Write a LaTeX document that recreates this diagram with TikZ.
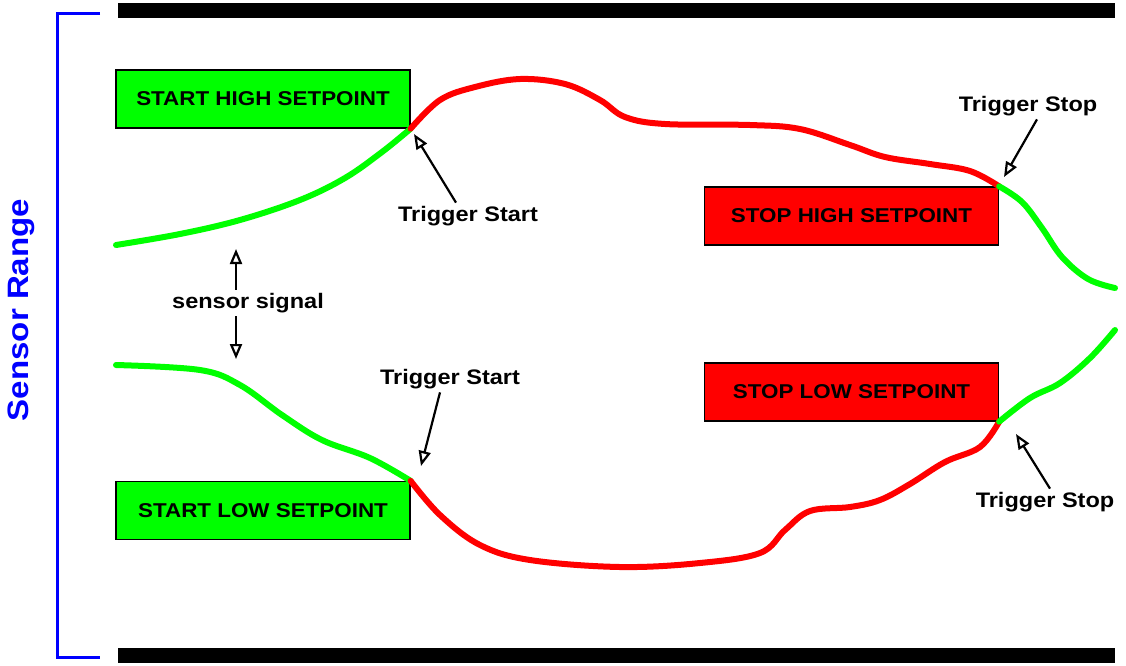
\documentclass[tikz,border=0pt]{standalone}
\usepackage{fontspec}
\setmainfont{Liberation Sans}
\newfontfamily\widesans[FakeStretch=1.12]{Liberation Sans}
\usepackage{tikz}
\usetikzlibrary{arrows.meta}

\begin{document}
\begin{tikzpicture}[x=1pt, y=-1pt, font=\widesans\bfseries,
  setbox/.style={draw=black, line width=1.3pt, minimum width=294pt, minimum height=58pt, font=\widesans\bfseries\fontsize{20}{22}\selectfont},
  sig/.style={line width=6pt, line cap=round, line join=round},
  arr/.style={line width=2.2pt, -{Triangle[open, length=15pt, width=12pt]}},
  lab/.style={font=\widesans\bfseries\fontsize{21}{23}\selectfont}]
\useasboundingbox (0,0) rectangle (1126,665);
% rails and range bracket
\fill[black] (118,3) rectangle (1115,18);
\fill[black] (118,648) rectangle (1115,663);
\draw[blue, line width=3pt] (100,13) -- (57,13) -- (57,657) -- (100,657);
\node[rotate=90, text=blue, font=\widesans\bfseries\fontsize{29.5}{32}\selectfont] (range) at (21,310) {Sensor Range};
% setpoint boxes
\node[setbox, fill=green] (starthigh) at (263,99) {START HIGH SETPOINT};
\node[setbox, fill=red] (stophigh) at (851.5,216) {STOP HIGH SETPOINT};
\node[setbox, fill=green] (startlow) at (263,510.5) {START LOW SETPOINT};
\node[setbox, fill=red] (stoplow) at (851.5,392) {STOP LOW SETPOINT};
% upper signal
\draw[sig, green] plot[smooth, tension=0.6] coordinates {(116,245) (180,234) (240,220) (300,200) (345,178) (382,152) (starthigh.south east)};
\draw[sig, red] plot[smooth, tension=0.6] coordinates {(starthigh.south east) (440,100) (475,87) (520,79) (565,84) (600,100) (625,117) (665,124) (750,125) (800,129) (850,145) (885,157) (930,164) (970,171) (stophigh.north east)};
\draw[sig, green] plot[smooth, tension=0.6] coordinates {(stophigh.north east) (1022,202) (1042,228) (1062,257) (1088,279) (1115,288)};
% lower signal
\draw[sig, green] plot[smooth, tension=0.6] coordinates {(116,365) (200,370) (240,385) (282,415) (322,440) (370,458) (startlow.north east)};
\draw[sig, red] plot[smooth, tension=0.6] coordinates {(startlow.north east) (440,515) (480,545) (530,560) (620,567) (700,563) (760,553) (785,530) (810,511) (850,507) (880,500) (910,484) (945,462) (980,447) (stoplow.south east)};
\draw[sig, green] plot[smooth, tension=0.6] coordinates {(stoplow.south east) (1030,398) (1060,383) (1090,358) (1115,330)};
% labels and pointers
\coordinate (tipA) at (414,134);
\coordinate (tipB) at (421,466);
\coordinate (tipC) at (1004,177);
\coordinate (tipD) at (1016,434);
\coordinate (up) at (236,249);
\coordinate (down) at (236,359);
\node[lab] (tsa) at (468,216) {Trigger Start};
\node[lab] (tsb) at (450,379) {Trigger Start};
\node[lab] (tpa) at (1028,106) {Trigger Stop};
\node[lab] (tpb) at (1045,502) {Trigger Stop};
\node[lab] (sens) at (248,303) {sensor signal};
\draw[arr] ([xshift=-12pt]tsa.north) -- (tipA);
\draw[arr] ([xshift=-10pt]tsb.south) -- (tipB);
\draw[arr] ([xshift=9pt]tpa.south) -- (tipC);
\draw[arr] ([xshift=5pt]tpb.north) -- (tipD);
\draw[arr] ([xshift=-12pt]sens.north) -- (up);
\draw[arr] ([xshift=-12pt]sens.south) -- (down);
\end{tikzpicture}
\end{document}
